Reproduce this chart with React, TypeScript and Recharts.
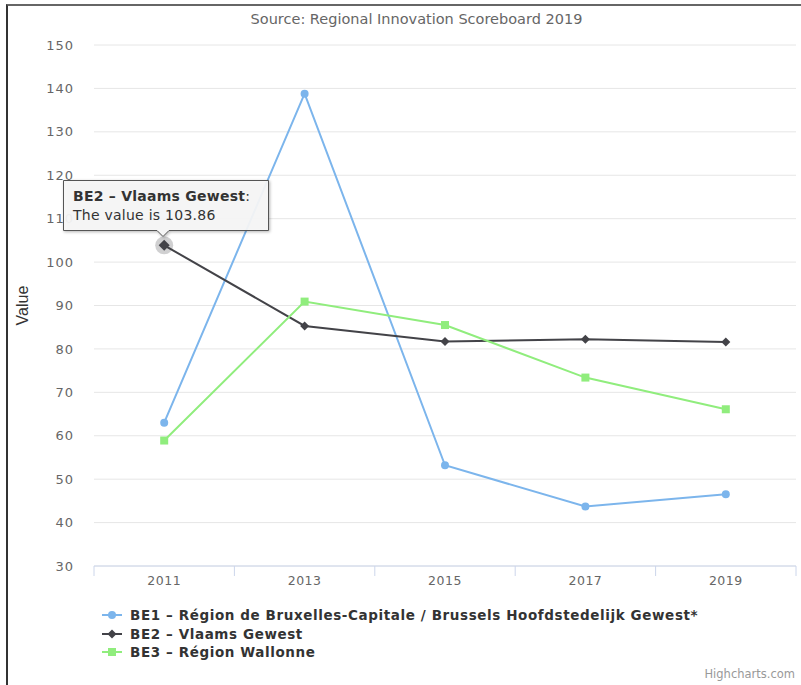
import { CartesianGrid, Line, LineChart, XAxis, YAxis } from 'recharts';

const years = [2011, 2013, 2015, 2017, 2019];
const be1 = [63.0, 138.8, 53.2, 43.7, 46.5];
const be2 = [103.86, 85.3, 81.7, 82.2, 81.6];
const be3 = [58.9, 90.9, 85.5, 73.4, 66.1];
const yTicks = [30, 40, 50, 60, 70, 80, 90, 100, 110, 120, 130, 140, 150];
const xTicks = [2010, 2011, 2012, 2013, 2014, 2015, 2016, 2017, 2018, 2019, 2020];

const SERIES = [
  { key: 'be1', name: 'BE1 – Région de Bruxelles-Capitale / Brussels Hoofdstedelijk Gewest*', color: '#7cb5ec', shape: 'circle' },
  { key: 'be2', name: 'BE2 – Vlaams Gewest', color: '#434348', shape: 'diamond' },
  { key: 'be3', name: 'BE3 – Région Wallonne', color: '#90ed7d', shape: 'square' },
];

const data = years.map((y, i) => ({ year: y, be1: be1[i], be2: be2[i], be3: be3[i] }));

const FONT = '"DejaVu Sans", sans-serif';

function Marker({ shape, cx, cy, color, r = 4 }: any) {
  if (shape === 'circle') return <circle cx={cx} cy={cy} r={r} fill={color} />;
  if (shape === 'square') return <rect x={cx - r} y={cy - r} width={r * 2} height={r * 2} fill={color} />;
  return <path d={`M${cx} ${cy - r - 0.5}L${cx + r + 0.5} ${cy}L${cx} ${cy + r + 0.5}L${cx - r - 0.5} ${cy}Z`} fill={color} />;
}

const makeDot = (shape: string, color: string, hoverIndex?: number) => (props: any) => {
  const { cx, cy, index } = props;
  if (cx == null || cy == null) return <g key={index} />;
  if (index === hoverIndex) {
    return (
      <g key={index}>
        <circle cx={cx} cy={cy} r={9} fill={color} fillOpacity={0.25} />
        <Marker shape={shape} cx={cx} cy={cy} color={color} r={5} />
      </g>
    );
  }
  return <Marker key={index} shape={shape} cx={cx} cy={cy} color={color} />;
};

const XTick = ({ x, y, payload }: any) => {
  const v = payload.value;
  if (v % 2 === 0) {
    return <line x1={x} x2={x} y1={y} y2={y + 10} stroke="#ccd6eb" strokeWidth={1} />;
  }
  return (
    <text x={x} y={y + 19} textAnchor="middle" fill="#666" fontSize={12.5} letterSpacing={0.5} fontFamily={FONT}>
      {v}
    </text>
  );
};

// legenda fuera del LineChart para no robar espacio al área de trazado
const LegendBox = () => (
  <div
    style={{
      position: 'absolute', left: 101, top: 606,
      fontFamily: FONT, fontSize: 13.5, letterSpacing: 0.6, fontWeight: 'bold', color: '#333',
    }}
  >
    {SERIES.map((s) => (
      <div key={s.key} style={{ display: 'flex', alignItems: 'center', height: 18.5, whiteSpace: 'nowrap' }}>
        <svg width={22} height={12} style={{ marginRight: 7 }}>
          <line x1={1} x2={21} y1={6} y2={6} stroke={s.color} strokeWidth={2} />
          <Marker shape={s.shape} cx={11} cy={6} color={s.color} />
        </svg>
        <span>{s.name}</span>
      </div>
    ))}
  </div>
);

export default function App() {
  return (
    <div style={{ position: 'absolute', left: 0, top: 0, width: 801, height: 685, background: '#fff', overflow: 'hidden' }}>
      <div style={{ position: 'absolute', left: 6, top: 4, right: 0, bottom: 0, borderLeft: '2px solid #333', borderTop: '2px solid #666' }} />
      <div
        style={{
          position: 'absolute', left: 16, top: 11, width: 801, textAlign: 'center',
          fontFamily: FONT, fontSize: 14.5, color: '#666',
        }}
      >
        Source: Regional Innovation Scoreboard 2019
      </div>
      <div style={{ position: 'absolute', left: 0, top: 0 }}>
        <LineChart width={801} height={685} data={data} margin={{ top: 45, right: 5, left: 0, bottom: 0 }}>
          <CartesianGrid vertical={false} stroke="#e6e6e6" />
          <XAxis
            dataKey="year"
            type="number"
            domain={[2010, 2020]}
            ticks={xTicks}
            interval={0}
            tick={<XTick />}
            tickLine={false}
            tickSize={0}
            tickMargin={0}
            axisLine={{ stroke: '#ccd6eb' }}
            height={119}
          />
          <YAxis
            domain={[30, 150]}
            ticks={yTicks}
            interval={0}
            width={94}
            tickSize={0}
            tickMargin={20}
            tickLine={false}
            axisLine={false}
            tick={{ fill: '#666', fontSize: 13, fontFamily: FONT, letterSpacing: 1 }}
            label={(props: any) => {
              const vb = props.viewBox;
              const cx = 22;
              const cy = vb.y + vb.height / 2;
              return (
                <text x={cx} y={cy} transform={`rotate(-90 ${cx} ${cy})`} textAnchor="middle" dominantBaseline="central"
                  fill="#333" fontSize={16} fontFamily='"Liberation Sans Narrow", "Liberation Sans", sans-serif'>
                  Value
                </text>
              );
            }}
          />
          {SERIES.map((s) => (
            <Line
              key={s.key}
              dataKey={s.key}
              name={s.name}
              stroke={s.color}
              strokeWidth={2}
              dot={makeDot(s.shape, s.color, s.key === 'be2' ? 0 : undefined)}
              activeDot={false}
              isAnimationActive={false}
            />
          ))}
        </LineChart>
      </div>
      <LegendBox />
      <svg style={{ position: 'absolute', left: 60, top: 178 }} width={215} height={62}>
        <defs>
          <filter id="sh" x="-10%" y="-10%" width="130%" height="140%">
            <feDropShadow dx={1} dy={1} stdDeviation={1.5} floodColor="#000" floodOpacity={0.3} />
          </filter>
        </defs>
        <path
          d="M3.5 2.5H208.5V52.5H109L103 58.5L97 52.5H3.5Z"
          fill="rgba(247,247,247,0.92)"
          stroke="#555"
          strokeWidth={1}
          filter="url(#sh)"
        />
        <text x={13} y={23} fontFamily={FONT} fontSize={14} letterSpacing={0.25} fill="#333">
          <tspan fontWeight="bold">BE2 – Vlaams Gewest</tspan>
          <tspan>:</tspan>
        </text>
        <text x={13} y={42} fontFamily={FONT} fontSize={14} letterSpacing={0.25} fill="#333">
          The value is 103.86
        </text>
      </svg>
      <div style={{ position: 'absolute', right: 6, top: 667, fontFamily: FONT, fontSize: 11.5, color: '#999' }}>
        Highcharts.com
      </div>
    </div>
  );
}
